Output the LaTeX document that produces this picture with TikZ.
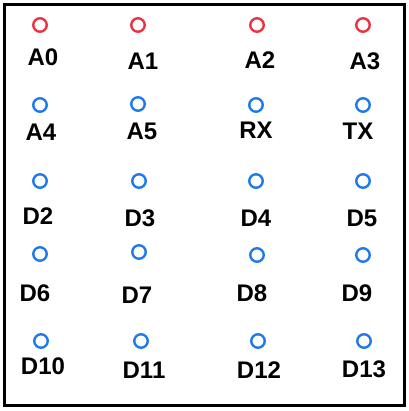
\documentclass[tikz,border=0pt]{standalone}
\usepackage{fontspec}
\setmainfont{Liberation Sans}
\definecolor{pinred}{RGB}{234,50,66}
\definecolor{pinblue}{RGB}{30,122,232}
\tikzset{
  pin/.style={circle,draw,line width=2.4pt,minimum size=13.5pt,inner sep=0pt},
  redpin/.style={pin,draw=pinred},
  bluepin/.style={pin,draw=pinblue},
  lab/.style={font=\fontsize{24}{24}\selectfont\bfseries,inner sep=0pt}
}
\begin{document}
\begin{tikzpicture}[x=1pt,y=-1pt]
\useasboundingbox (0,0) rectangle (408,411);
\draw[line width=3pt] (4.5,4.5) rectangle (404.5,405.5);
% row 1
\node[redpin] (cA0) at (40,25) {};
\node[redpin] (cA1) at (138,25) {};
\node[redpin] (cA2) at (257,25) {};
\node[redpin] (cA3) at (363,25) {};
\node[lab] (lA0) at (43,57) {A0};
\node[lab] (lA1) at (143,61) {A1};
\node[lab] (lA2) at (260,60) {A2};
\node[lab] (lA3) at (365,61) {A3};
% row 2
\node[bluepin] (cA4) at (40,105) {};
\node[bluepin] (cA5) at (138,104) {};
\node[bluepin] (cRX) at (256,105) {};
\node[bluepin] (cTX) at (363,105) {};
\node[lab] (lA4) at (41,132) {A4};
\node[lab] (lA5) at (142,131) {A5};
\node[lab] (lRX) at (256,130) {RX};
\node[lab] (lTX) at (358,131) {TX};
% row 3
\node[bluepin] (cD2) at (40,181) {};
\node[bluepin] (cD3) at (139,181) {};
\node[bluepin] (cD4) at (256,181) {};
\node[bluepin] (cD5) at (363,181) {};
\node[lab] (lD2) at (38,216) {D2};
\node[lab] (lD3) at (140,218) {D3};
\node[lab] (lD4) at (256,218) {D4};
\node[lab] (lD5) at (362,218) {D5};
% row 4
\node[bluepin] (cD6) at (40,254) {};
\node[bluepin] (cD7) at (139,252) {};
\node[bluepin] (cD8) at (257,255) {};
\node[bluepin] (cD9) at (363,255) {};
\node[lab] (lD6) at (35,293) {D6};
\node[lab] (lD7) at (137,295) {D7};
\node[lab] (lD8) at (252,293) {D8};
\node[lab] (lD9) at (357,293) {D9};
% row 5
\node[bluepin] (cD10) at (41,341) {};
\node[bluepin] (cD11) at (141,341) {};
\node[bluepin] (cD12) at (258,341) {};
\node[bluepin] (cD13) at (364,341) {};
\node[lab] (lD10) at (43,366) {D10};
\node[lab] (lD11) at (144,370) {D11};
\node[lab] (lD12) at (259,370) {D12};
\node[lab] (lD13) at (364,369) {D13};
\end{tikzpicture}
\end{document}
